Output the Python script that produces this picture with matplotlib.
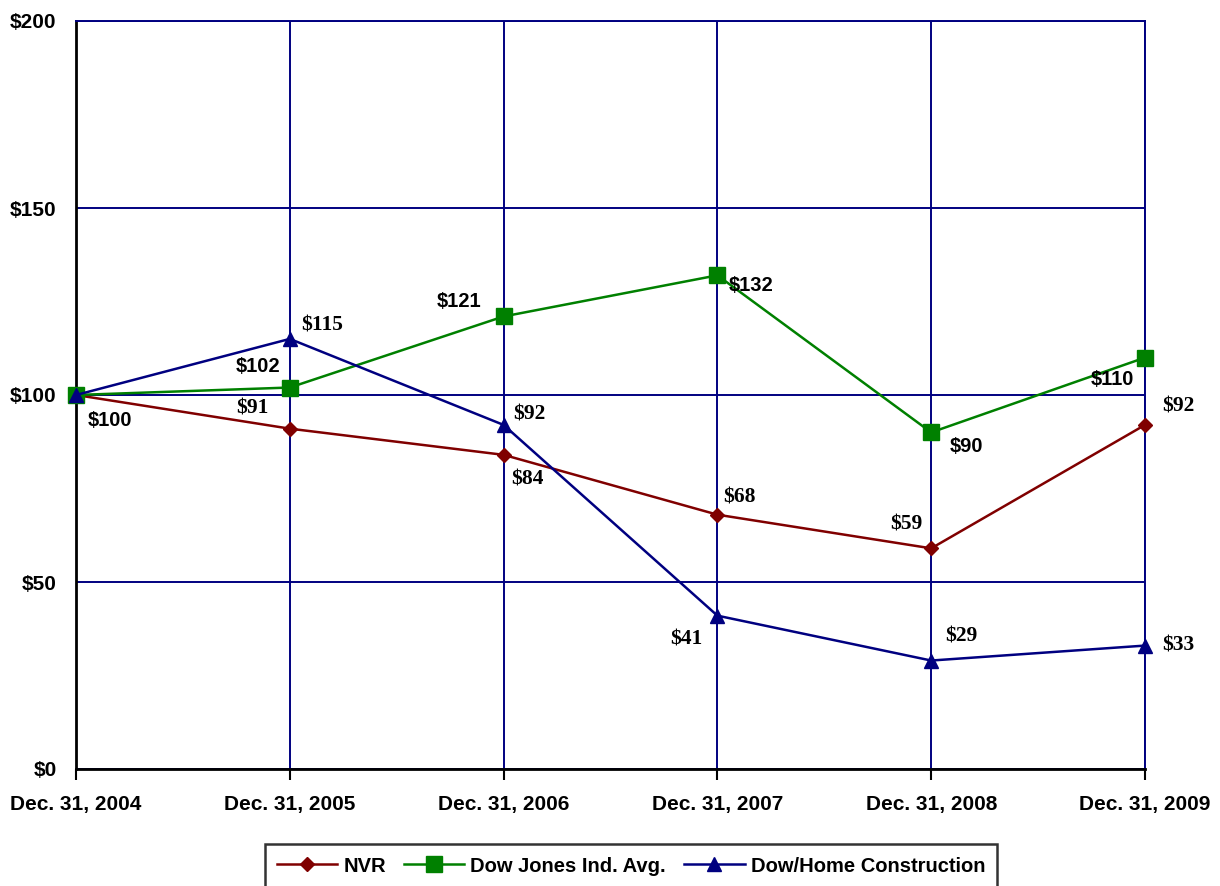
import numpy as np
import matplotlib
matplotlib.use("Agg")
import matplotlib.pyplot as plt

# data
dates = ["Dec. 31, 2004", "Dec. 31, 2005", "Dec. 31, 2006",
         "Dec. 31, 2007", "Dec. 31, 2008", "Dec. 31, 2009"]
nvr = [100, 91, 84, 68, 59, 92]
dow_jones = [100, 102, 121, 132, 90, 110]
home_constr = [100, 115, 92, 41, 29, 33]
y_ticks = [0, 50, 100, 150, 200]

navy = "#000080"
green = "#008000"
maroon = "#800000"

fig = plt.figure(figsize=(12.2, 8.86), dpi=100)
ax = fig.add_axes([76/1220, 1-769/886, (1145-76)/1220, (769-21)/886])

x = np.arange(len(dates))

ax.plot(x, nvr, color=maroon, lw=1.8, marker="D", ms=7.5, mfc=maroon, mec=maroon,
        label="NVR", zorder=3, clip_on=False)
ax.plot(x, dow_jones, color=green, lw=1.8, marker="s", ms=11, mfc=green, mec=green,
        label="Dow Jones Ind. Avg.", zorder=4, clip_on=False)
ax.plot(x, home_constr, color=navy, lw=1.8, marker="^", ms=10, mfc=navy, mec=navy,
        label="Dow/Home Construction", zorder=5, clip_on=False)

ax.set_xlim(0, 5)
ax.set_ylim(0, 200)
ax.set_xticks(x)
ax.set_xticklabels(dates, fontsize=15, fontweight="bold", family="Liberation Sans")
ax.set_yticks(y_ticks)
ax.set_yticklabels(["$%d" % v for v in y_ticks], fontsize=15, fontweight="bold",
                   family="Liberation Sans")
ax.tick_params(axis="x", direction="out", length=8, width=1.5, color="black", pad=11)
ax.tick_params(axis="y", length=0, pad=14)

# grid
ax.grid(True, color=navy, lw=1.4, zorder=1)
ax.set_axisbelow(True)
for s in ["top", "right"]:
    ax.spines[s].set_color(navy)
    ax.spines[s].set_linewidth(1.4)
for s in ["left", "bottom"]:
    ax.spines[s].set_color("black")
    ax.spines[s].set_linewidth(2)

# point labels: (offset in px)
sans = dict(fontsize=14.5, fontweight="bold", family="Liberation Sans")
serif = dict(fontsize=15.5, fontweight="bold", family="Liberation Serif")

dj_off = [(34, -25), (-32, 21), (-45, 15), (34, -10), (35, -14), (-33, -22)]
nvr_off = [None, (-37, 20), (24, -25), (22, 17), (-25, 24), (33, 18)]
home_off = [None, (32, 13), (26, 10), (-31, -24), (30, 24), (33, 0)]

for i, v in enumerate(dow_jones):
    ax.annotate("$%d" % v, (i, v), xytext=dj_off[i], textcoords="offset pixels",
                ha="center", va="center", zorder=6, **sans)
for i, v in enumerate(nvr):
    if nvr_off[i] is None:
        continue
    ax.annotate("$%d" % v, (i, v), xytext=nvr_off[i], textcoords="offset pixels",
                ha="center", va="center", zorder=6, **serif)
for i, v in enumerate(home_constr):
    if home_off[i] is None:
        continue
    ax.annotate("$%d" % v, (i, v), xytext=home_off[i], textcoords="offset pixels",
                ha="center", va="center", zorder=6, **serif)

leg = fig.legend(loc="center", bbox_to_anchor=(631/1220, 1-866/886), ncol=3,
                 frameon=True, fancybox=False, handlelength=3.0, handletextpad=0.3,
                 columnspacing=0.9, borderpad=0.6,
                 prop=dict(family="Liberation Sans", weight="bold", size=14.5))
leg.get_frame().set_edgecolor("black")
leg.get_frame().set_linewidth(1.8)

fig.savefig("out.png", dpi=100)
